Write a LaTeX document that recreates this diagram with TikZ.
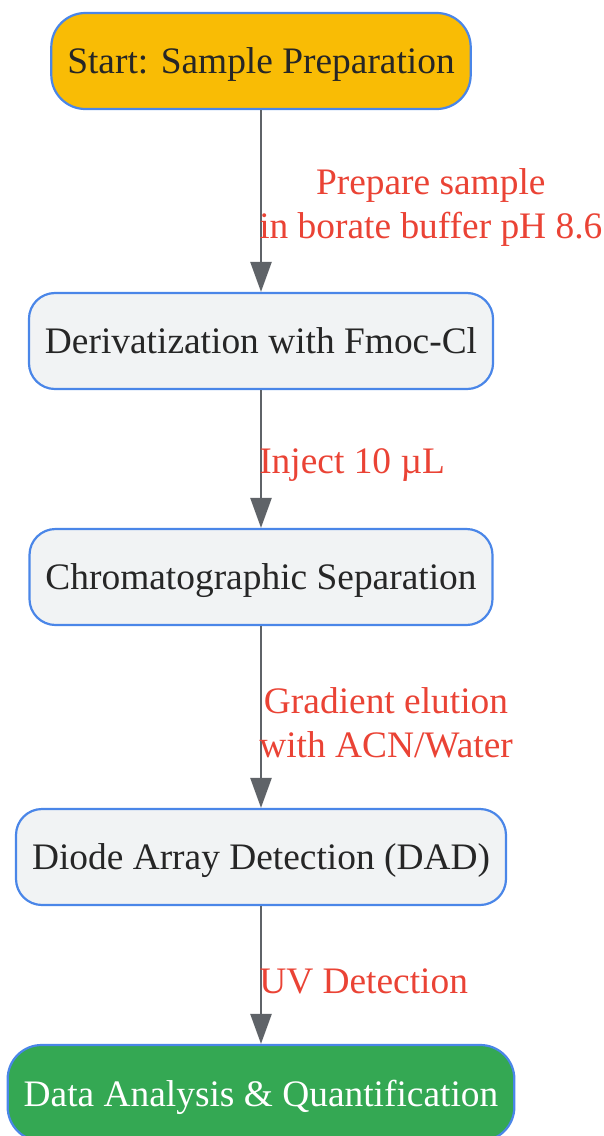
\documentclass[tikz,border=0pt]{standalone}
\usepackage{fontspec}
\setmainfont{Liberation Serif}
\usetikzlibrary{arrows.meta}

\definecolor{startyellow}{HTML}{F9BC05}
\definecolor{stepgray}{HTML}{F1F3F4}
\definecolor{endgreen}{HTML}{34A853}
\definecolor{edgeblue}{HTML}{4A86E8}
\definecolor{arrowgray}{HTML}{5F6368}
\definecolor{labelred}{HTML}{EA4335}
\definecolor{textdark}{HTML}{262626}

\begin{document}
\begin{tikzpicture}[
    x=1pt, y=-1pt,
    every node/.style={font=\fontsize{37.4}{44}\selectfont},
    box/.style={draw=edgeblue, line width=2.2pt, rounded corners=26pt,
        minimum height=96pt, inner xsep=16pt, text depth=0pt, text=textdark, fill=stepgray},
    flow/.style={-{Triangle[length=30pt,width=21pt]}, line width=2.5pt, arrowgray},
    lbl/.style={anchor=west, text=labelred, align=center, inner sep=0pt, xshift=-3pt, yshift=-6pt}
]

% --- Frame ---
\useasboundingbox (0,0) rectangle (604,1136);
\clip (0,0) rectangle (604,1136);

% --- Steps ---
\node[box, fill=startyellow, rounded corners=34pt] (start) at (261,61) {Start: Sample Preparation};
\node[box] (deriv) at (261,341) {Derivatization with Fmoc-Cl};
\node[box] (chrom) at (261,577) {Chromatographic Separation};
\node[box] (dad) at (261,857) {Diode Array Detection (DAD)};
\node[box, fill=endgreen, text=white, rounded corners=34pt] (data) at (261,1093) {Data Analysis \& Quantification};

% --- Connectors ---
\draw[flow] (start) -- node[lbl] {Prepare sample\\in borate buffer pH 8.6} (deriv);
\draw[flow] (deriv) -- node[lbl] {Inject 10 µL} (chrom);
\draw[flow] (chrom) -- node[lbl] {Gradient elution\\with ACN/Water} (dad);
\draw[flow] (dad) -- node[lbl] {UV Detection} (data);

\end{tikzpicture}
\end{document}
